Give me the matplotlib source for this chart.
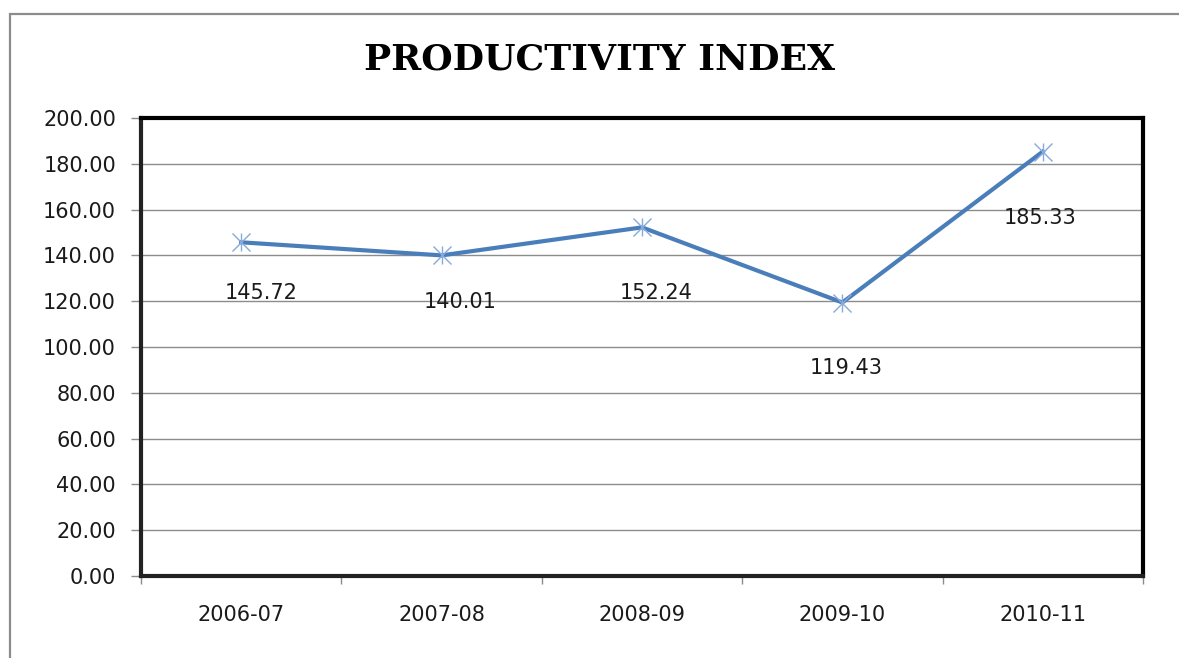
import matplotlib
matplotlib.use("Agg")
import matplotlib.pyplot as plt
from matplotlib.patches import Rectangle
from matplotlib.ticker import FixedLocator

# data
years = ["2006-07", "2007-08", "2008-09", "2009-10", "2010-11"]
index_values = [145.72, 140.01, 152.24, 119.43, 185.33]
y_ticks = [0, 20, 40, 60, 80, 100, 120, 140, 160, 180, 200]

# label offsets from the point, in pixels (dx, dy)
label_offsets = [(20, -51), (19, -47), (14, -66), (4, -65), (-3, -66)]

W, H = 1179, 658
fig = plt.figure(figsize=(W / 100, H / 100), dpi=100)
fig.patch.set_facecolor("white")

# outer chart border (cropped on the right and bottom)
fig.patches.append(Rectangle((10 / W, -0.2), 1.5, 1 - 14 / H + 0.2,
                             transform=fig.transFigure, fill=False,
                             edgecolor="#8c8c8c", linewidth=1.6))

ax = fig.add_axes([141 / W, 1 - 576 / H, (1143 - 141) / W, (576 - 118) / H])

x = list(range(len(years)))
ax.plot(x, index_values, color="#4a7ebb", linewidth=3.0, zorder=3)
ax.plot(x, index_values, linestyle="none", marker="x", markersize=13,
        markeredgewidth=1.0, color="#86aadc", zorder=4)
ax.plot(x, index_values, linestyle="none", marker="|", markersize=13,
        markeredgewidth=1.0, color="#86aadc", zorder=4)

for xi, v, (dx, dy) in zip(x, index_values, label_offsets):
    ax.annotate(f"{v:.2f}", (xi, v), xytext=(dx, dy), textcoords="offset pixels",
                ha="center", va="center", fontsize=15, color="#1a1a1a")

ax.set_xlim(-0.5, len(years) - 0.5)
ax.set_ylim(0, 200)
ax.set_yticks(y_ticks)
ax.set_yticklabels([f"{t:.2f}" for t in y_ticks])
ax.yaxis.grid(True, color="#8c8c8c", linewidth=1.0)
ax.set_axisbelow(True)

ax.set_xticks(x)
ax.set_xticklabels(years)
ax.xaxis.set_minor_locator(FixedLocator([i - 0.5 for i in range(len(years) + 1)]))
ax.tick_params(axis="x", which="major", length=0, pad=21, labelsize=15,
               labelcolor="#1a1a1a")
ax.tick_params(axis="x", which="minor", length=6, width=1, color="#8c8c8c",
               direction="out")
ax.tick_params(axis="y", length=7, width=1, color="#8c8c8c", pad=11,
               labelsize=15, labelcolor="#1a1a1a")

for side in ["top", "right", "bottom", "left"]:
    ax.spines[side].set_linewidth(3.0)
    ax.spines[side].set_color("black")
ax.spines["left"].set_color("#222222")
ax.spines["bottom"].set_color("#222222")

fig.text(600 / W, 1 - 60 / H, "PRODUCTIVITY INDEX", ha="center", va="center",
         fontsize=26, fontweight="bold", family="DejaVu Serif")

fig.savefig("out.png", dpi=100)
